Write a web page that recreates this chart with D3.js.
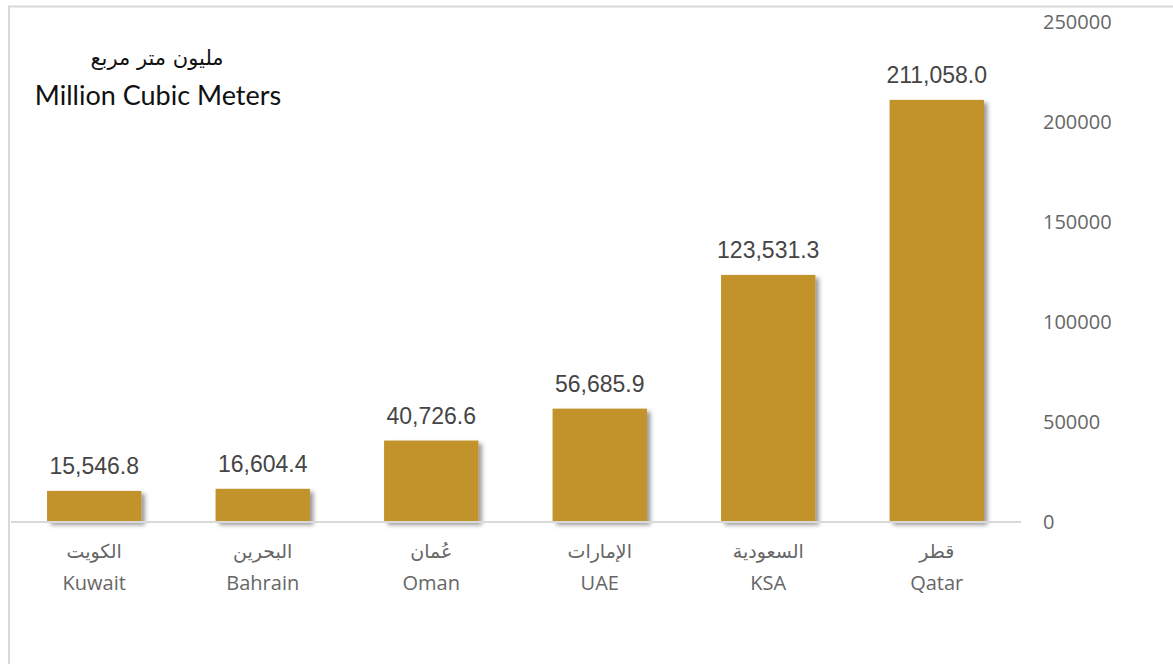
<!DOCTYPE html>
<html>
<head>
<meta charset="utf-8">
<script src="https://cdnjs.cloudflare.com/ajax/libs/d3/7.8.5/d3.min.js"></script>
<style>
  html, body { margin: 0; padding: 0; background: #fff; }
  svg { display: block; }
</style>
</head>
<body>
<svg id="chart" width="1173" height="664"></svg>
<script>
// Natural gas volumes by country (million cubic meters)
const categoriesEn = ["Kuwait", "Bahrain", "Oman", "UAE", "KSA", "Qatar"];
const categoriesAr = ["الكويت", "البحرين", "عُمان", "الإمارات", "السعودية", "قطر"];
const values = [15546.8, 16604.4, 40726.6, 56685.9, 123531.3, 211058.0];
const yTicks = [0, 50000, 100000, 150000, 200000, 250000];
const titleAr = "مليون متر مربع";
const titleEn = "Million Cubic Meters";

const svg = d3.select("#chart");

// Light frame along the top and left edges
svg.append("rect")
  .attr("x", 9).attr("y", 6.5)
  .attr("width", 1200).attr("height", 700)
  .attr("fill", "none")
  .attr("stroke", "#d9d9d9")
  .attr("stroke-width", 2);

// Soft drop shadow for bars
const defs = svg.append("defs");
const f = defs.append("filter").attr("id", "barShadow")
  .attr("x", "-10%").attr("y", "-10%").attr("width", "130%").attr("height", "130%");
f.append("feDropShadow")
  .attr("dx", 3.5).attr("dy", 3)
  .attr("stdDeviation", 2.2)
  .attr("flood-color", "#000")
  .attr("flood-opacity", 0.4);

const x = d3.scaleBand()
  .domain(categoriesEn)
  .range([10, 1021])
  .paddingInner(0.44)
  .paddingOuter(0.22);

const y = d3.scaleLinear()
  .domain([0, 250000])
  .range([522, 22]);

// Bars
svg.append("g").selectAll("rect")
  .data(values)
  .join("rect")
  .attr("x", (d, i) => x(categoriesEn[i]))
  .attr("y", d => y(d))
  .attr("width", x.bandwidth())
  .attr("height", d => y(0) - y(d))
  .attr("fill", "#C1932C")
  .attr("filter", "url(#barShadow)");

// Baseline
svg.append("line")
  .attr("x1", 11).attr("x2", 1021)
  .attr("y1", y(0)).attr("y2", y(0))
  .attr("stroke", "#d9d9d9")
  .attr("stroke-width", 2);

// Value labels
const fmt = d3.format(",.1f");
svg.append("g").selectAll("text")
  .data(values)
  .join("text")
  .attr("x", (d, i) => x(categoriesEn[i]) + x.bandwidth() / 2)
  .attr("y", d => y(d) - 17)
  .attr("text-anchor", "middle")
  .attr("font-family", "'Liberation Sans', Arial, sans-serif")
  .attr("font-size", 23)
  .attr("fill", "#454545")
  .text(d => fmt(d));

// Y axis on the right, labels only
const yAxis = d3.axisRight(y)
  .tickValues(yTicks)
  .tickSize(0)
  .tickPadding(0)
  .tickFormat(d3.format("d"));
const yg = svg.append("g")
  .attr("transform", "translate(1043,0)")
  .call(yAxis);
yg.select(".domain").remove();
yg.selectAll("text")
  .attr("font-family", "'Open Sans', sans-serif")
  .attr("font-size", 20)
  .attr("fill", "#666");

// Category labels (Arabic above English)
const xg = svg.append("g");
xg.selectAll("text.ar")
  .data(categoriesAr)
  .join("text")
  .attr("class", "ar")
  .attr("x", (d, i) => x(categoriesEn[i]) + x.bandwidth() / 2)
  .attr("y", 558)
  .attr("text-anchor", "middle")
  .attr("font-family", "'DejaVu Sans', sans-serif")
  .attr("font-size", 19)
  .attr("fill", "#666")
  .text(d => d);
xg.selectAll("text.en")
  .data(categoriesEn)
  .join("text")
  .attr("class", "en")
  .attr("x", (d, i) => x(categoriesEn[i]) + x.bandwidth() / 2)
  .attr("y", 590)
  .attr("text-anchor", "middle")
  .attr("font-family", "'Open Sans', sans-serif")
  .attr("font-size", 20)
  .attr("fill", "#666")
  .text(d => d);

// Unit title
svg.append("text")
  .attr("x", 157).attr("y", 65)
  .attr("text-anchor", "middle")
  .attr("font-family", "'DejaVu Serif', 'DejaVu Sans', serif")
  .attr("font-size", 21)
  .attr("fill", "#111")
  .text(titleAr);
svg.append("text")
  .attr("x", 158).attr("y", 105)
  .attr("text-anchor", "middle")
  .attr("font-family", "Lato, sans-serif")
  .attr("font-size", 27)
  .attr("fill", "#111")
  .text(titleEn);
</script>
</body>
</html>
